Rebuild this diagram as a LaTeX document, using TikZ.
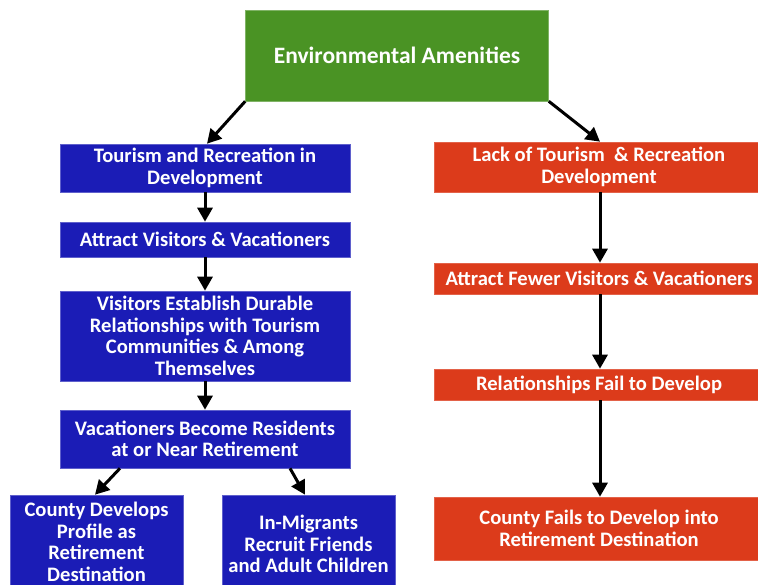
\documentclass[tikz,border=0pt]{standalone}
\usepackage{fontspec}
\setmainfont{Carlito}
\usetikzlibrary{arrows.meta}
\definecolor{gbox}{HTML}{4A9324}
\definecolor{bbox}{HTML}{1B1CB6}
\definecolor{rbox}{HTML}{DC3B1B}
\begin{document}
\begin{tikzpicture}[x=1pt,y=-1pt,
  base/.style={rectangle, inner sep=0pt, text=white, align=center, font=\bfseries\fontsize{20.6}{21.6}\selectfont},
  bluebox/.style={base, fill=bbox, draw=bbox!70!white, line width=0.6pt},
  redbox/.style={base, fill=rbox, draw=rbox!80!white, line width=0.6pt},
  greenbox/.style={base, fill=gbox, draw=gbox!70!white, line width=0.6pt, font=\bfseries\fontsize{23.5}{26}\selectfont},
  arr/.style={line width=3pt, -{Triangle[width=15pt,length=14pt]}}]
\useasboundingbox (0,0) rectangle (758,585);
\clip (0,0) rectangle (758,585);
\node[greenbox, minimum width=303pt, minimum height=91pt] (env) at (397,55.5) {Environmental Amenities};
% blue column
\node[bluebox, minimum width=290pt, minimum height=48pt] (b1) at (205,168) {Tourism and Recreation in\\Development};
\node[bluebox, minimum width=290pt, minimum height=35pt] (b2) at (205,239.5) {Attract Visitors \& Vacationers};
\node[bluebox, minimum width=290pt, minimum height=90pt] (b3) at (205,336) {Visitors Establish Durable\\Relationships with Tourism\\Communities \& Among\\Themselves};
\node[bluebox, minimum width=290pt, minimum height=58pt] (b4) at (205,439) {Vacationers Become Residents\\at or Near Retirement};
\node[bluebox, minimum width=173pt, minimum height=94pt] (b5) at (96.5,542) {County Develops\\Profile as\\Retirement\\Destination};
\node[bluebox, minimum width=173pt, minimum height=98pt] (b6) at (308.5,544) {In-Migrants\\Recruit Friends\\and Adult Children};
% red column
\node[redbox, minimum width=330pt, minimum height=50pt] (r1) at (599,167) {Lack of Tourism\ \ \& Recreation\\Development};
\node[redbox, minimum width=330pt, minimum height=31pt] (r2) at (599,278.5) {Attract Fewer Visitors \& Vacationers};
\node[redbox, minimum width=330pt, minimum height=31pt] (r3) at (599,384.5) {Relationships Fail to Develop};
\node[redbox, minimum width=330pt, minimum height=63pt] (r4) at (599,528.5) {County Fails to Develop into\\Retirement Destination};
% arrows
\draw[arr] (env.south west) -- (b1.north -| 207,0);
\draw[arr] (env.south east) -- (r1.north -| 600,0);
\draw[arr] (b1.south) -- (b2.north);
\draw[arr] (b2.south) -- (b3.north);
\draw[arr] (b3.south) -- (b4.north);
\draw[arr] (b4.south -| 120,0) -- (b5.north -| 95,0);
\draw[arr] (b4.south -| 290,0) -- (b6.north -| 305,0);
\draw[arr] (r1.south -| 600,0) -- (r2.north -| 600,0);
\draw[arr] (r2.south -| 600,0) -- (r3.north -| 600,0);
\draw[arr] (r3.south -| 600,0) -- (r4.north -| 600,0);
\end{tikzpicture}
\end{document}
